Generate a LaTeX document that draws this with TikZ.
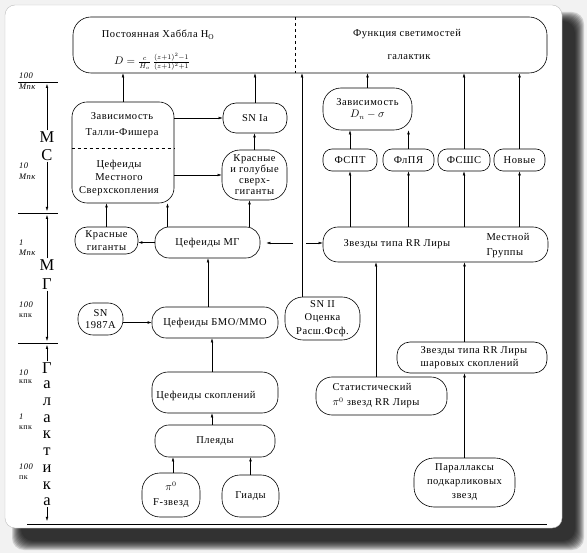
\documentclass[tikz,border=0pt]{standalone}
\usepackage{fontspec}
\setmainfont[LetterSpace=5]{Liberation Serif}
\usetikzlibrary{calc}
\usetikzlibrary{arrows.meta}
\newcommand{\bfs}{\fontsize{10.5}{13}\selectfont}
\tikzset{
  blok/.style={draw, line width=0.6pt, rounded corners=#1, inner sep=1pt, align=center, font=\bfs},
  blok/.default=13pt,
  wh/.style 2 args={minimum width=#1, minimum height=#2},
  arr/.style={-{Latex[length=4pt,width=2.6pt]}, line width=0.4pt},
  txt/.style={inner sep=0pt, font=\bfs},
  scl/.style={inner sep=0pt, anchor=west, font=\fontsize{8.5}{9}\selectfont\itshape},
  sclu/.style={inner sep=0pt, anchor=west, font=\fontsize{8}{9}\selectfont},
  big/.style={inner sep=1pt, font=\fontsize{16.5}{16}\selectfont},
}
\begin{document}
\begin{tikzpicture}[x=1pt, y=-1pt]
  \useasboundingbox (0,0) rectangle (587,553);
  % card with shadow
  \fill[black!5] (0,0) rectangle (587,553);
  \foreach \s in {0,...,9}
    \fill[black, opacity=0.14, rounded corners=12pt] (12+\s,12+\s) rectangle (584-\s,550-\s);
  \filldraw[draw=black!25, fill=white, rounded corners=10pt] (5,5) rectangle (562,528);

  % top box
  \node[blok=18pt, wh={474}{56}] (hub) at (310,45) {};
  \draw[dashed, line width=0.6pt] (295,17) -- (295,73);
  \node[txt] (hubl) at (158,35) {Постоянная Хаббла H$_\mathrm{O}$};
  \node[txt] (hubf) at (152,62) {$D=\frac{c}{H_o}\,\frac{(z+1)^2-1}{(z+1)^2+1}$};
  \node[txt] (hubr) at (407,34) {Функция светимостей};
  \node[txt] (hubg) at (409,57) {галактик};

  % left column
  \node[blok=15pt, wh={102}{101}] (tf) at (123,152.5) {};
  \draw[dashed, line width=0.6pt] (tf.west |- 0,148) -- (tf.east |- 0,148);
  \node[txt, align=center, font=\fontsize{10.5}{16}\selectfont] (tft) at (122,125) {Зависимость\\Талли-Фишера};
  \node[txt, align=center] (tfb) at (119,178) {Цефеиды\\Местного\\Сверхскопления};
  \node[blok, wh={64}{30}] (snIa) at (255,118) {SN Ia};
  \node[blok=18pt, wh={65}{50}, font=\fontsize{10.5}{11}\selectfont] (rbsg) at (254.5,175) {Красные\\и голубые\\сверх-\\гиганты};
  \node[blok=12pt, wh={63}{27}, font=\fontsize{10.5}{13.5}\selectfont] (rg) at (106.5,240.5) {Красные\\гиганты};
  \node[blok=14pt, wh={105}{31}] (cephMG) at (207.5,242.5) {Цефеиды МГ};
  \node[blok=15pt, wh={45}{32}, font=\fontsize{10.5}{12}\selectfont] (sn87) at (100.5,319) {SN\\1987A};
  \node[blok=14pt, wh={126}{31}] (bmo) at (215,322.5) {Цефеиды БМО/ММО};
  \node[blok=16pt, wh={126}{41}] (cepcl) at (215,392.5) {};
  \node[txt] (cepclt) at (206,396) {Цефеиды скоплений};
  \node[blok=14pt, wh={120}{32}] (ple) at (215,441) {Плеяды};
  \node[blok=18pt, wh={58}{44}, font=\fontsize{10.5}{15}\selectfont] (piF) at (171,495) {$\pi^0$\\F-звезд};
  \node[blok=18pt, wh={57}{42}] (hya) at (250.5,496) {Гиады};

  % right column
  \node[blok=18pt, wh={89}{42}, font=\fontsize{10.5}{12.5}\selectfont] (dns) at (367.5,109) {Зависимость\\$D_n-\sigma$};
  \node[blok=9pt, wh={54}{22}] (fspt) at (350,160) {ФСПТ};
  \node[blok=9pt, wh={51}{22}] (flpya) at (408.5,160) {ФлПЯ};
  \node[blok=9pt, wh={52}{22}] (fshs) at (464,160) {ФСШС};
  \node[blok=9pt, wh={51}{22}] (novye) at (519.5,160) {Новые};
  \node[blok=15pt, wh={225}{35}] (rrlg) at (435.5,244.5) {};
  \node[txt] (rrlga) at (397,244) {Звезды типа RR Лиры};
  \node[txt, align=left, font=\fontsize{10.5}{15}\selectfont] (rrlgb) at (508,245.5) {Местной\\Группы};
  \node[blok=18pt, wh={75}{43}, font=\fontsize{10.5}{13.5}\selectfont] (sn2) at (322.5,318.5) {SN II\\Оценка\\Расш.Фсф.};
  \node[blok=13pt, wh={150}{31}] (rrgc) at (472,357.5) {};
  \node[txt, align=left, font=\fontsize{10.5}{13}\selectfont] (rrgct) at (474,358) {Звезды типа RR Лиры\\шаровых скоплений};
  \node[blok=16pt, wh={131}{38}] (stat) at (381.5,396) {};
  \node[txt, align=left, font=\fontsize{10.5}{15}\selectfont] (statt) at (376,396) {Статистический\\$\pi^0$ звезд RR Лиры};
  \node[blok=20pt, wh={101}{49}, font=\fontsize{10.5}{14}\selectfont] (par) at (464.5,482.5) {Параллаксы\\подкарликовых\\звезд};

  % connectors
  \draw[arr] (tf.north) -- (tf.north |- hub.south);
  \draw[arr] (snIa.north) -- (snIa.north |- hub.south);
  \draw[arr] ([xshift=-20.5pt]sn2.north) -- ([xshift=-20.5pt]sn2.north |- hub.south);
  \draw[arr] (dns.north) -- (dns.north |- hub.south);
  \draw[arr] (fshs.north) -- (fshs.north |- hub.south);
  \draw[arr] (novye.north) -- (novye.north |- hub.south);
  \draw[arr] (fspt.north) -- (fspt.north |- dns.south);
  \draw[arr] (flpya.north) -- (flpya.north |- dns.south);
  \foreach \b in {fspt,flpya,fshs,novye}
    \draw[arr] (\b.south |- rrlg.north) -- (\b.south);
  \draw[arr] ([xshift=-5.5pt]stat.north) -- ([xshift=-5.5pt]stat.north |- rrlg.south);
  \draw[arr] (rrgc.north -| par.north) -- (par.north |- rrlg.south);
  \draw[arr] (par.north) -- (par.north |- rrgc.south);
  \draw[arr] (rbsg.north) -- (rbsg.north |- snIa.south);
  \draw[arr] (tf.east |- snIa.west) -- (snIa.west);
  \draw[arr] (tf.east |- rbsg.west) -- (rbsg.west);
  \draw[arr] (cephMG.west) -- (cephMG.west -| rg.east);
  \draw[arr] (rg.north) -- (rg.north |- tf.south);
  \draw[arr] ([xshift=-40pt]cephMG.north) -- ([xshift=-40pt]cephMG.north |- tf.south);
  \draw[arr] ([xshift=42pt]cephMG.north) -- ([xshift=42pt]cephMG.north |- rbsg.south);
  \coordinate (jl) at (293,243);
  \coordinate (jr) at (306,243);
  \draw[arr, shorten >=6pt] (jl) -- (jl -| cephMG.east);
  \draw[arr] (jr) -- (jr -| rrlg.west);
  \draw[arr] ([xshift=-7pt]bmo.north) -- ([xshift=-7pt]bmo.north |- cephMG.south);
  \draw[arr] (bmo.west -| sn87.east) -- (bmo.west);
  \draw[arr] ([xshift=-3pt]cepcl.north) -- ([xshift=-3pt]cepcl.north |- bmo.south);
  \draw[arr] ([xshift=-3pt]ple.north) -- ([xshift=-3pt]ple.north |- cepcl.south);
  \draw[arr] ([xshift=2pt]piF.north) -- ([xshift=2pt]piF.north |- ple.south);
  \draw[arr] (hya.north) -- (hya.north |- ple.south);

  % distance scale
  \draw[line width=0.4pt] (18,82) -- (58,82);
  \draw[line width=0.4pt] (18,213) -- (58,213);
  \draw[line width=0.4pt] (18,343) -- (58,343);
  \draw[line width=0.5pt] (27,524) -- (547,524);
  \node[scl] (l1a) at (19,76) {100};
  \node[scl] (l1b) at (19,87) {Мпк};
  \node[scl] (l2a) at (19,166) {10};
  \node[scl] (l2b) at (19,177) {Мпк};
  \node[scl] (l3a) at (19,243) {1};
  \node[scl] (l3b) at (19,253) {Мпк};
  \node[scl] (l4a) at (19,305) {100};
  \node[sclu] (l4b) at (19,316) {кпк};
  \node[scl] (l5a) at (19,373) {10};
  \node[sclu] (l5b) at (19,382) {кпк};
  \node[scl] (l6a) at (19,417) {1};
  \node[sclu] (l6b) at (19,428) {кпк};
  \node[scl] (l7a) at (19,467) {100};
  \node[sclu] (l7b) at (19,478) {пк};
  \node[big] (msM) at (47,137) {М};
  \node[big] (msC) at (47,155) {С};
  \draw[arr] (msM.north) -- (47,84);
  \draw[arr] (msC.south) -- (47,211);
  \node[big] (mgM) at (47,265) {М};
  \node[big] (mgG) at (47,284) {Г};
  \draw[arr] (mgM.north) -- (47,215);
  \draw[arr] (mgG.south) -- (47,341);
  \foreach \l [count=\i] in {Г,а,л,а,к,т,и,к,а}
    \node[big] (g\i) at (47,{368+16.75*(\i-1)}) {\l};
  \draw[arr] (g1.north) -- (47,345);
  \draw[arr] (g9.south) -- (47,521);
\end{tikzpicture}
\end{document}
